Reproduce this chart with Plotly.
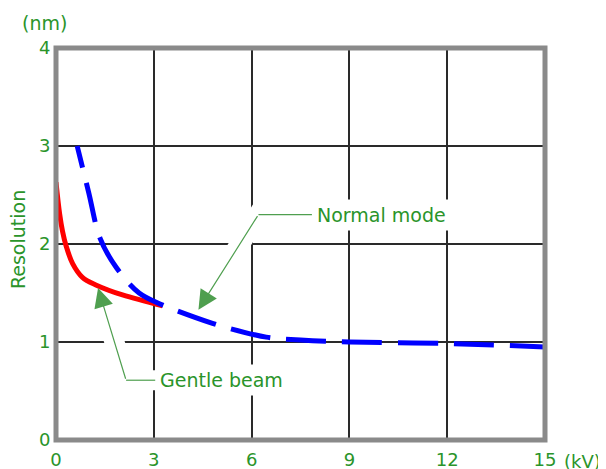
import plotly.graph_objects as go

# Data
gentle_x = [0.0, 0.11, 0.2, 0.31, 0.51, 0.81, 1.24, 2.04, 3.27]
gentle_y = [2.63, 2.31, 2.13, 1.98, 1.80, 1.66, 1.58, 1.48, 1.37]

normal_x = [0.65, 1.0, 1.35, 1.85, 2.55, 3.25, 3.7, 4.8, 5.3, 6.45, 7.5, 9.0, 12.0, 15.0]
normal_y = [3.0, 2.53, 2.06, 1.76, 1.5, 1.38, 1.32, 1.19, 1.14, 1.05, 1.02, 1.0, 0.985, 0.95]

x_ticks = [0, 3, 6, 9, 12, 15]
y_ticks = [0, 1, 2, 3, 4]

# callout geometry (data units)
nm_tip = (4.37, 1.33)
nm_corner = (6.21, 2.30)
nm_text = (7.85, 2.30)
gb_tip = (1.29, 1.55)
gb_corner = (2.15, 0.61)
gb_text = (3.05, 0.61)

GREEN_TXT = "#2a942a"
GREEN_LINE = "#4f9f4f"
FONT = "DejaVu Sans"

# dash pattern: short first dash, then regular long dashes
DASH = "22px,16px," + ",".join(["40px,16px"] * 16)

fig = go.Figure()

# white halos behind callout lines (hide gridlines)
for tip, corner, txt in [(nm_tip, nm_corner, nm_text), (gb_tip, gb_corner, gb_text)]:
    fig.add_trace(go.Scatter(
        x=[tip[0], corner[0], txt[0]], y=[tip[1], corner[1], txt[1]],
        mode="lines", line=dict(color="white", width=20),
        hoverinfo="skip", showlegend=False))

fig.add_trace(go.Scatter(
    x=gentle_x, y=gentle_y, mode="lines", name="Gentle beam",
    line=dict(color="#ff0000", width=5, shape="spline", smoothing=1.0),
    showlegend=False))
fig.add_trace(go.Scatter(
    x=normal_x, y=normal_y, mode="lines", name="Normal mode",
    line=dict(color="#0000ff", width=5, dash=DASH, shape="spline", smoothing=1.0),
    showlegend=False))

# horizontal parts of callout lines
for corner, txt in [(nm_corner, nm_text), (gb_corner, gb_text)]:
    fig.add_trace(go.Scatter(
        x=[corner[0], txt[0]], y=[corner[1], txt[1]],
        mode="lines", line=dict(color=GREEN_LINE, width=1.2),
        hoverinfo="skip", showlegend=False))

# arrows
for tip, corner in [(nm_tip, nm_corner), (gb_tip, gb_corner)]:
    fig.add_annotation(x=tip[0], y=tip[1], ax=corner[0], ay=corner[1],
                       xref="x", yref="y", axref="x", ayref="y",
                       text="", showarrow=True, arrowhead=2, arrowsize=3.2,
                       arrowwidth=1.2, arrowcolor=GREEN_LINE)

# labels
for txt, pos in [("Normal mode", nm_text), ("Gentle beam", gb_text)]:
    fig.add_annotation(x=pos[0], y=pos[1], xref="x", yref="y", text=txt,
                       showarrow=False, xanchor="left", yanchor="middle",
                       bgcolor="white", borderpad=4,
                       font=dict(family=FONT, size=19, color=GREEN_TXT))

fig.add_annotation(x=0.0, y=0.51, xref="paper", yref="paper", text="Resolution",
                   textangle=-90, showarrow=False, xanchor="center",
                   xshift=-38,
                   font=dict(family=FONT, size=19, color=GREEN_TXT))
fig.add_annotation(x=0.0, y=1.0, xref="paper", yref="paper", text="(nm)",
                   showarrow=False, xanchor="center", yanchor="bottom",
                   xshift=-12, yshift=12,
                   font=dict(family=FONT, size=19, color=GREEN_TXT))
fig.add_annotation(x=1.0, y=0.0, xref="paper", yref="paper", text="(kV)",
                   showarrow=False, xanchor="left", yanchor="top",
                   xshift=17, yshift=-9,
                   font=dict(family=FONT, size=18, color=GREEN_TXT))

# frame
fig.add_shape(type="rect", xref="paper", yref="paper", x0=0, x1=1, y0=0, y1=1,
              line=dict(color="#8a8a8a", width=5), layer="above")

fig.update_xaxes(range=[0, 15], tickvals=x_ticks, ticktext=[str(v) for v in x_ticks],
                 showgrid=True, gridcolor="#2a2a2a", gridwidth=1.5,
                 zeroline=False, showline=False, automargin=False,
                 ticks="outside", ticklen=3, tickcolor="rgba(0,0,0,0)",
                 tickfont=dict(family=FONT, size=18, color=GREEN_TXT))
fig.update_yaxes(range=[0, 4], tickvals=y_ticks, ticktext=[str(v) for v in y_ticks],
                 showgrid=True, gridcolor="#2a2a2a", gridwidth=1.5,
                 zeroline=False, showline=False, automargin=False,
                 ticks="outside", ticklen=1, tickcolor="rgba(0,0,0,0)",
                 tickfont=dict(family=FONT, size=18, color=GREEN_TXT))

# page body has an 8px margin, so the figure is sized to fill the rest of the window
fig.update_layout(width=598, height=461,
                  margin=dict(l=48, r=61, t=40, b=29),
                  paper_bgcolor="white", plot_bgcolor="white",
                  showlegend=False)

fig.write_html("out.html")
